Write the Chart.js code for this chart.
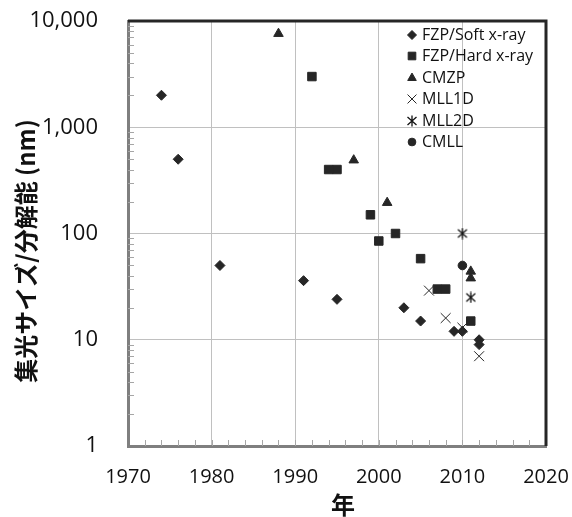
<!DOCTYPE html>
<html>
<head>
<meta charset="utf-8">
<title>集光サイズ/分解能</title>
<script src="https://cdn.jsdelivr.net/npm/chart.js@4/dist/chart.umd.min.js"></script>
<style>
  body { margin: 0; background: #fff; }
</style>
</head>
<body>
<canvas id="focusChart" width="572" height="517"></canvas>
<script>
// Data (year, focus size / resolution in nm)
const softYears = [1974, 1976, 1981, 1991, 1995, 2003, 2005, 2009, 2010, 2012, 2012];
const softSize = [2000, 500, 50, 36, 24, 20, 15, 12, 12, 10, 9];

const hardYears = [1992, 1994, 1995, 1999, 2000, 2002, 2005, 2007, 2008, 2011];
const hardSize = [3000, 400, 400, 150, 85, 100, 58, 30, 30, 15];

const cmzpYears = [1988, 1997, 2001, 2011, 2011];
const cmzpSize = [7600, 490, 195, 44, 38];

const mll1dYears = [2006, 2008, 2010, 2012];
const mll1dSize = [29, 16, 13, 7];

const mll2dYears = [2010, 2011];
const mll2dSize = [100, 25];

const cmllYears = [2010];
const cmllSize = [50];

const seriesNames = ['FZP/Soft x-ray', 'FZP/Hard x-ray', 'CMZP', 'MLL1D', 'MLL2D', 'CMLL'];

// Axis ticks
const yearTicks = [1970, 1980, 1990, 2000, 2010, 2020];
const sizeTicks = [1, 10, 100, 1000, 10000];

const ink = '#262626';
const gridGray = '#c0c0c0';

function points(xs, ys) {
    return xs.map((x, i) => ({ x: x, y: ys[i] }));
}

// "x with a vertical bar" marker for MLL2D
const starMark = document.createElement('canvas');
starMark.width = 12;
starMark.height = 12;
(function () {
    const c = starMark.getContext('2d');
    c.strokeStyle = '#111';
    c.lineWidth = 1.3;
    c.beginPath();
    c.moveTo(1.5, 2); c.lineTo(10.5, 10);
    c.moveTo(10.5, 2); c.lineTo(1.5, 10);
    c.moveTo(6, 0.5); c.lineTo(6, 11.5);
    c.stroke();
})();

// Minor ticks inside the plot + dark top/right frame
const framePlugin = {
    id: 'frame',
    beforeDatasetsDraw(chart) {
        const { ctx, chartArea: a, scales: { x, y } } = chart;
        ctx.save();
        ctx.strokeStyle = '#a6a6a6';
        ctx.lineWidth = 1;
        ctx.beginPath();
        for (let d = 1; d < 10000; d *= 10) {
            for (let k = 2; k <= 9; k++) {
                const py = Math.round(y.getPixelForValue(k * d)) + 0.5;
                ctx.moveTo(a.left, py);
                ctx.lineTo(a.left + 6, py);
            }
        }
        for (let yr = 1972; yr < 2020; yr += 2) {
            const px = Math.round(x.getPixelForValue(yr)) + 0.5;
            ctx.moveTo(px, a.bottom);
            ctx.lineTo(px, a.bottom - 6);
        }
        ctx.stroke();
        ctx.strokeStyle = ink;
        ctx.lineWidth = 3;
        ctx.beginPath();
        ctx.moveTo(a.left, a.top);
        ctx.lineTo(a.right, a.top);
        ctx.lineTo(a.right, a.bottom);
        ctx.stroke();
        ctx.restore();
    }
};

// Legend drawn inside the plot, top right
const legendPlugin = {
    id: 'innerLegend',
    afterDatasetsDraw(chart) {
        const { ctx, chartArea: a } = chart;
        ctx.save();
        ctx.font = '16px "Open Sans"';
        ctx.textBaseline = 'middle';
        ctx.textAlign = 'left';
        chart.data.datasets.forEach((ds, i) => {
            const px = Math.round(a.right - 134);
            const py = Math.round(a.top + 14 + i * 21.4);
            ctx.fillStyle = ink;
            ctx.strokeStyle = ink;
            ctx.lineWidth = 1;
            Chart.helpers.drawPoint(ctx, {
                pointStyle: ds.pointStyle,
                radius: ds.pointRadius * 0.9,
                borderWidth: 1,
                rotation: 0
            }, px, py);
            ctx.fillStyle = '#111';
            ctx.fillText(ds.label, px + 10, py);
        });
        ctx.restore();
    }
};

const ctx = document.getElementById('focusChart');

new Chart(ctx, {
    type: 'scatter',
    data: {
        datasets: [
            { label: seriesNames[0], data: points(softYears, softSize), pointStyle: 'rectRot', pointRadius: 5 },
            { label: seriesNames[1], data: points(hardYears, hardSize), pointStyle: 'rect', pointRadius: 6 },
            { label: seriesNames[2], data: points(cmzpYears, cmzpSize), pointStyle: 'triangle', pointRadius: 5.5 },
            { label: seriesNames[3], data: points(mll1dYears, mll1dSize), pointStyle: 'crossRot', pointRadius: 7 },
            { label: seriesNames[4], data: points(mll2dYears, mll2dSize), pointStyle: starMark, pointRadius: 6 },
            { label: seriesNames[5], data: points(cmllYears, cmllSize), pointStyle: 'circle', pointRadius: 4.3 }
        ].map(ds => Object.assign(ds, {
            backgroundColor: ink,
            borderColor: ink,
            borderWidth: 1,
            pointHoverRadius: ds.pointRadius
        }))
    },
    options: {
        responsive: false,
        animation: false,
        layout: { padding: { top: 21, right: 26, bottom: 0, left: 0 } },
        plugins: {
            legend: { display: false },
            tooltip: { enabled: false }
        },
        scales: {
            x: {
                type: 'linear',
                min: yearTicks[0],
                max: yearTicks[yearTicks.length - 1],
                afterBuildTicks: s => { s.ticks = yearTicks.map(v => ({ value: v })); },
                afterFit: s => { s.height = 71; },
                // invisible tick marks keep the labels away from the axis
                grid: { color: gridGray, drawTicks: true, tickLength: 17, tickColor: 'rgba(0,0,0,0)' },
                border: { color: '#7f7f7f', width: 3 },
                ticks: {
                    padding: 2,
                    color: '#111',
                    font: { family: '"Open Sans"', size: 20 },
                    callback: v => String(v)
                },
                title: {
                    display: true,
                    text: '\u2002年',
                    color: '#111',
                    padding: { top: 0, bottom: 0 },
                    font: { family: '"Noto Sans CJK JP"', size: 24, weight: 'bold', lineHeight: 1 }
                }
            },
            y: {
                type: 'logarithmic',
                min: sizeTicks[0],
                max: sizeTicks[sizeTicks.length - 1],
                afterBuildTicks: s => { s.ticks = sizeTicks.map(v => ({ value: v })); },
                afterFit: s => { s.width = 128; },
                grid: { color: gridGray, drawTicks: true, tickLength: 28, tickColor: 'rgba(0,0,0,0)' },
                border: { color: '#7f7f7f', width: 3 },
                ticks: {
                    padding: 2,
                    color: '#111',
                    font: { family: '"Open Sans"', size: 22 },
                    callback: v => v.toLocaleString('en-US')
                },
                title: {
                    display: true,
                    text: '集光サイズ/分解能 (nm)\u3000  ',
                    color: '#111',
                    padding: { top: 14, bottom: 0 },
                    font: { family: '"Noto Sans CJK JP"', size: 24, weight: 'bold', lineHeight: 1 }
                }
            }
        }
    },
    plugins: [framePlugin, legendPlugin]
});
</script>
</body>
</html>
